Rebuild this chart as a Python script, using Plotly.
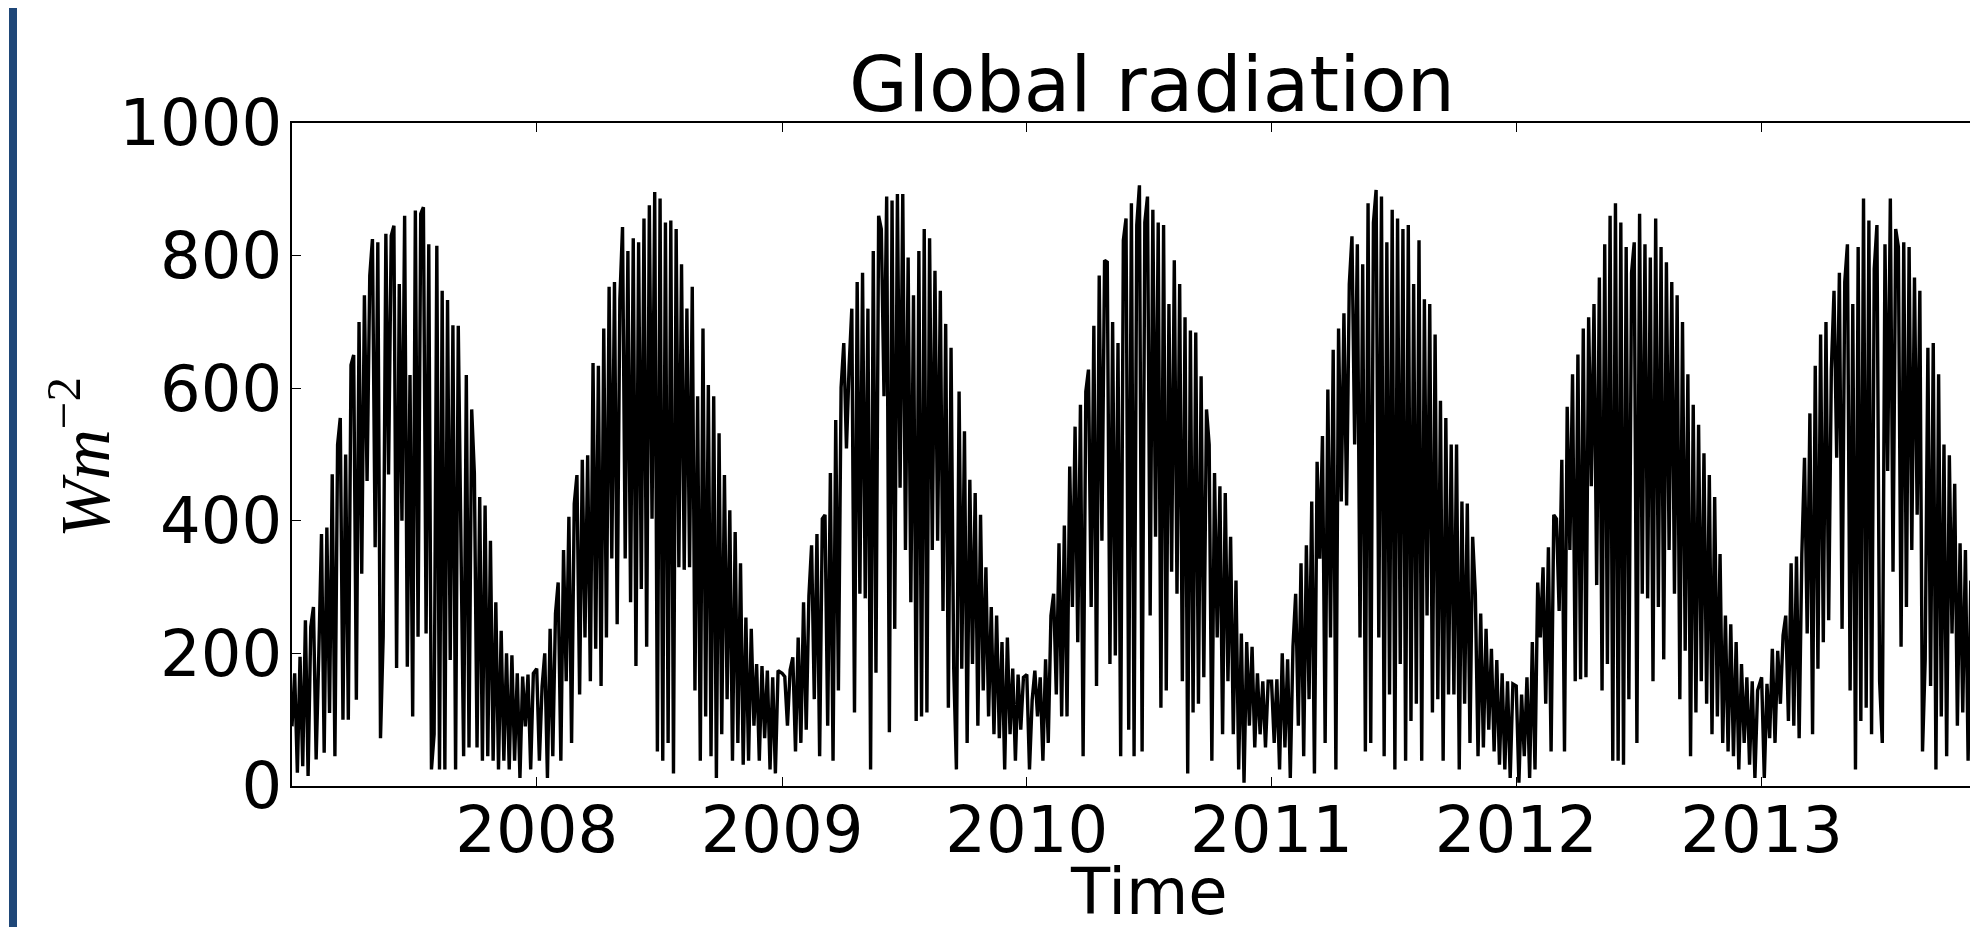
import pandas as pd
import plotly.graph_objects as go

YEARS = [2007, 2008, 2009, 2010, 2011, 2012, 2013]
STEP_DAYS = 4

y2007 = [90, 170, 20, 195, 30, 250, 15, 240,
         270, 40, 200, 380, 50, 390, 110,
         470, 45, 515, 555, 100, 500, 100, 635,
         650, 130, 700, 320, 740, 460, 770,
         825, 360, 820, 72, 225, 833, 470, 830,
         845, 178, 757, 400, 860, 180, 620,
         105, 868, 225, 863, 873, 230, 817, 25,
         78, 815, 25, 747, 25, 733, 190, 695,
         25, 694, 380, 45, 620, 58, 568,
         472, 58, 436, 38, 423, 45, 370, 38,
         277, 25, 234, 38, 200, 25, 197,
         38, 170, 12, 165, 90, 168, 25, 170]

y2008 = [177, 38, 150, 200, 12, 237, 45, 260,
         307, 38, 356, 158, 406, 65, 426,
         469, 138, 492, 224, 499, 158, 638, 207,
         634, 151, 690, 224, 753, 343, 760,
         244, 734, 843, 343, 807, 277, 826, 181,
         820, 297, 856, 210, 876, 403, 896,
         52, 886, 38, 850, 65, 853, 19, 840,
         330, 787, 326, 720, 330, 753, 144, 588,
         38, 690, 105, 605, 45, 588, 12,
         532, 78, 469, 131, 416, 38, 383, 65,
         336, 32, 254, 38, 237, 91, 184,
         38, 181, 72, 174, 25, 164, 19, 174]

y2009 = [170, 165, 91, 175, 194, 52, 224, 65,
         277, 85, 287, 363, 131, 380, 45,
         403, 409, 91, 472, 38, 552, 144, 601,
         668, 509, 634, 720, 111, 760, 290,
         774, 283, 720, 25, 807, 171, 860, 840,
         588, 889, 81, 883, 237, 893, 450,
         893, 356, 797, 277, 740, 98, 807, 105,
         840, 111, 826, 356, 777, 370, 747, 264,
         697, 118, 661, 177, 25, 595, 177,
         535, 65, 462, 184, 442, 91, 409, 144,
         330, 105, 270, 78, 257, 72, 217,
         25, 224, 78, 177, 38, 168, 85, 164]

y2010 = [168, 25, 130, 174, 105, 164, 38, 191,
         65, 257, 290, 138, 366, 105, 393,
         105, 482, 270, 542, 217, 575, 45, 595,
         628, 270, 694, 151, 770, 370, 793,
         790, 184, 700, 197, 668, 45, 823, 856,
         85, 879, 45, 846, 906, 52, 850,
         889, 257, 869, 376, 850, 118, 846, 144,
         727, 323, 793, 290, 757, 158, 707, 19,
         687, 111, 684, 124, 618, 164, 568,
         515, 38, 472, 224, 452, 78, 442, 158,
         376, 78, 310, 25, 230, 5, 217,
         91, 210, 58, 170, 78, 158, 58, 158]

y2011 = [158, 65, 161, 25, 200, 58, 191, 12,
         210, 290, 91, 336, 45, 363, 131,
         429, 19, 489, 343, 528, 65, 598, 224,
         658, 25, 690, 429, 713, 423, 757,
         829, 515, 817, 224, 787, 52, 879, 65,
         850, 899, 224, 889, 45, 820, 138,
         869, 25, 856, 184, 840, 38, 846, 98,
         757, 124, 823, 38, 734, 257, 727, 111,
         681, 131, 581, 38, 555, 138, 515,
         138, 515, 25, 429, 124, 426, 65, 376,
         290, 45, 260, 58, 237, 85, 207,
         52, 190, 32, 170, 25, 158, 12, 154]

y2012 = [151, 5, 138, 45, 164, 12, 217, 25,
         307, 224, 330, 124, 360, 52, 409,
         403, 264, 492, 52, 572, 356, 621, 158,
         651, 161, 690, 164, 707, 452, 727,
         303, 767, 144, 817, 184, 860, 38, 879,
         38, 850, 32, 813, 131, 774, 820,
         65, 863, 290, 817, 283, 797, 158, 856,
         270, 813, 191, 790, 356, 760, 290, 740,
         131, 700, 204, 621, 45, 575, 111,
         545, 158, 502, 124, 469, 78, 436, 105,
         350, 65, 257, 52, 244, 45, 217,
         25, 184, 65, 164, 32, 158, 12, 144]

y2013 = [164, 12, 154, 72, 207, 65, 204, 124,
         227, 257, 98, 336, 91, 346, 72,
         350, 495, 230, 562, 78, 634, 177, 681,
         217, 700, 250, 628, 747, 495, 774,
         237, 760, 817, 144, 727, 25, 813, 98,
         886, 118, 853, 78, 780, 846, 158,
         65, 817, 475, 886, 323, 840, 813, 210,
         820, 270, 813, 356, 767, 409, 747, 52,
         191, 661, 151, 668, 25, 621, 105,
         515, 45, 499, 230, 456, 91, 366, 111,
         356, 38, 310, 91, 250, 52]

YEAR_VALUES = [y2007, y2008, y2009, y2010, y2011, y2012, y2013]

TICK_YEARS = [2008, 2009, 2010, 2011, 2012, 2013]
Y_TICKS = [0, 200, 400, 600, 800, 1000]
X_START = "2007-01-01"
X_END = "2013-11-19 18:00"

TITLE = "Global radiation"
X_LABEL = "Time"
Y_LABEL = "<i>Wm</i><sup>\u22122</sup>"

# ---------------- build series ----------------
dates, values = [], []
for year, arr in zip(YEARS, YEAR_VALUES):
    d = pd.date_range(f"{year}-01-01", periods=len(arr), freq=f"{STEP_DAYS}D")
    dates.extend(d)
    values.extend(arr)

# ---------------- layout geometry ----------------
# The page body has an 8px default margin, so the figure is drawn 8px
# smaller and all reference positions are shifted by that amount.
PAGE = 8
VIEW_W, VIEW_H = 1978, 927
W, H = VIEW_W - PAGE, VIEW_H - PAGE
# plot area in reference (screen) pixels
REF_L, REF_T, REF_B = 292, 123, 786
L, T, B = REF_L - PAGE, REF_T - PAGE, REF_B - PAGE
PW, PH = W - L, B - T


def px_x(ref_px):
    return (ref_px - PAGE - L) / PW


def px_y(ref_py):
    return (B - (ref_py - PAGE)) / PH


FONT = "DejaVu Sans"
TICK_SIZE = 64

fig = go.Figure()
fig.add_trace(go.Scatter(x=dates, y=values, mode="lines",
                         line=dict(color="black", width=3.4),
                         showlegend=False, hoverinfo="skip"))

axis_common = dict(ticks="inside", ticklen=9, tickwidth=1.2, tickcolor="black",
                   showline=True, linecolor="black", linewidth=2,
                   showgrid=False, zeroline=False,
                   tickfont=dict(family=FONT, size=TICK_SIZE, color="black"))

fig.update_xaxes(type="date", range=[X_START, X_END],
                 tickvals=[f"{y}-01-01" for y in TICK_YEARS],
                 ticktext=[str(y) for y in TICK_YEARS],
                 mirror="ticks", ticklabelstandoff=-13, **axis_common)
fig.update_yaxes(range=[0, 1000], tickvals=Y_TICKS,
                 ticktext=[str(v) for v in Y_TICKS],
                 mirror=False, ticklabelstandoff=-5, **axis_common)

fig.add_annotation(text=TITLE, xref="paper", yref="paper",
                   x=px_x(1152), y=px_y(84), xanchor="center", yanchor="middle",
                   showarrow=False, font=dict(family=FONT, size=76, color="black"))
fig.add_annotation(text=X_LABEL, xref="paper", yref="paper",
                   x=px_x(1149), y=px_y(892), xanchor="center", yanchor="middle",
                   showarrow=False, font=dict(family=FONT, size=64, color="black"))
fig.add_annotation(text=Y_LABEL, xref="paper", yref="paper", textangle=-90,
                   x=px_x(80), y=px_y(457), xanchor="center", yanchor="middle",
                   showarrow=False, font=dict(family="Liberation Serif", size=70, color="black"))

# dark blue vertical bar at the left edge of the picture
fig.add_shape(type="rect", xref="paper", yref="paper",
              x0=px_x(9), x1=px_x(17), y0=px_y(VIEW_H + 5), y1=px_y(-5),
              fillcolor="#1f4778", line=dict(width=0), layer="above")

fig.update_layout(width=W, height=H,
                  margin=dict(l=L, r=0, t=T, b=H - B, pad=0),
                  paper_bgcolor="white", plot_bgcolor="white",
                  font=dict(family=FONT, color="black"))

fig.write_html("out.html")
